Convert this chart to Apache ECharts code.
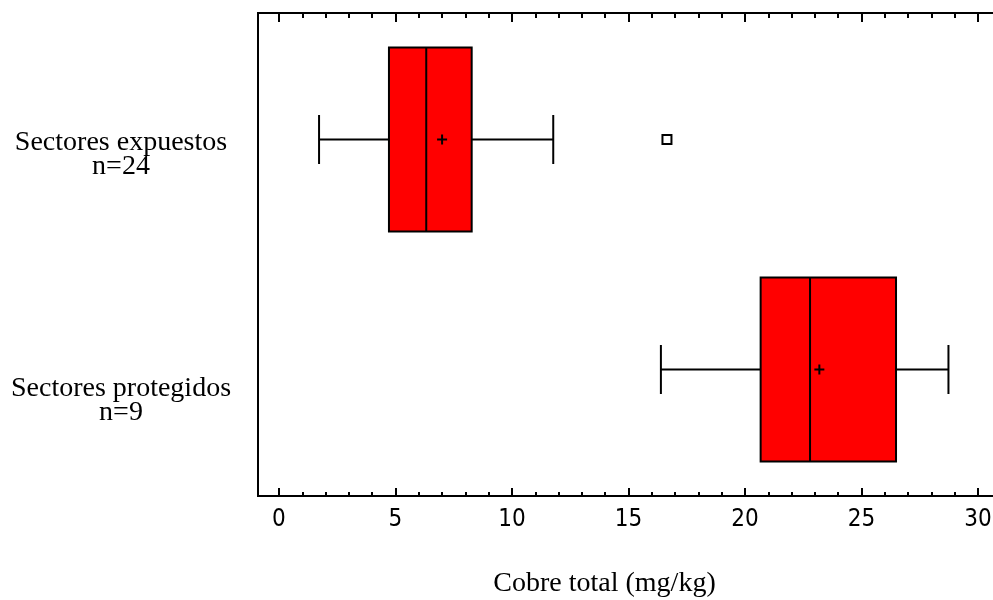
<!DOCTYPE html>
<html>
<head>
<meta charset="utf-8">
<script src="https://cdn.jsdelivr.net/npm/echarts@6/dist/echarts.min.js"></script>
<style>
  html, body { margin: 0; padding: 0; background: #fff; }
  #main { width: 993px; height: 600px; }
</style>
</head>
<body>
<div id="main"></div>
<script>
// grupos (de arriba a abajo)
var categories = ['Sectores expuestos\nn=24', 'Sectores protegidos\nn=9'];
var whiskerLow = [1.72, 16.39];
var q1 = [4.72, 20.67];
var median = [6.32, 22.79];
var q3 = [8.27, 26.48];
var whiskerHigh = [11.77, 28.73];
var mean = [7.0, 23.19];
// valores atipicos: [valor, indice del grupo]
var outliers = [[16.65, 0]];

var majorTicks = [0, 5, 10, 15, 20, 25, 30];
var minorTicks = [1, 2, 3, 4, 6, 7, 8, 9, 11, 12, 13, 14, 16, 17, 18, 19, 21, 22, 23, 24, 26, 27, 28, 29];

var X_MIN = -0.9, X_MAX = 31.5;
var serif = '"Liberation Serif", "Times New Roman", serif';
var digits = '"DejaVu Sans Condensed", "Liberation Sans Narrow", "Liberation Sans", sans-serif';

var boxData = [];
for (var i = 0; i < categories.length; i++) {
  boxData.push([whiskerLow[i], q1[i], median[i], q3[i], whiskerHigh[i], mean[i], i + 1]);
}
var outlierData = outliers.map(function (o) { return [o[0], o[1] + 1]; });

function renderBox(params, api) {
  var y = api.value(6);
  var pLow = api.coord([api.value(0), y]);
  var pQ1 = api.coord([api.value(1), y]);
  var pMed = api.coord([api.value(2), y]);
  var pQ3 = api.coord([api.value(3), y]);
  var pHigh = api.coord([api.value(4), y]);
  var pMean = api.coord([api.value(5), y]);
  var half = api.size([0, 0.4])[1];
  var cap = api.size([0, 0.1065])[1];
  var ls = { stroke: '#000', lineWidth: 2 };
  var cy = pQ1[1];
  return {
    type: 'group',
    children: [
      { type: 'line', shape: { x1: pLow[0], y1: cy, x2: pQ1[0], y2: cy }, style: ls },
      { type: 'line', shape: { x1: pQ3[0], y1: cy, x2: pHigh[0], y2: cy }, style: ls },
      { type: 'line', shape: { x1: pLow[0], y1: cy - cap, x2: pLow[0], y2: cy + cap }, style: ls },
      { type: 'line', shape: { x1: pHigh[0], y1: cy - cap, x2: pHigh[0], y2: cy + cap }, style: ls },
      { type: 'rect', shape: { x: pQ1[0], y: cy - half, width: pQ3[0] - pQ1[0], height: half * 2 },
        style: { fill: '#ff0000', stroke: '#000', lineWidth: 2 } },
      { type: 'line', shape: { x1: pMed[0], y1: cy - half, x2: pMed[0], y2: cy + half }, style: ls },
      { type: 'line', shape: { x1: pMean[0] - 5, y1: cy, x2: pMean[0] + 5, y2: cy }, style: ls },
      { type: 'line', shape: { x1: pMean[0], y1: cy - 5, x2: pMean[0], y2: cy + 5 }, style: ls }
    ]
  };
}

var myChart = echarts.init(document.getElementById('main'));
var option = {
  backgroundColor: '#fff',
  animation: false,
  grid: [
    { left: 258, top: 13, width: 755, height: 483, show: true, borderColor: '#000', borderWidth: 2,
      backgroundColor: 'transparent', containLabel: false, outerBoundsMode: 'none' },
    { left: 258, top: 32, width: 755, height: 492, show: false, containLabel: false, outerBoundsMode: 'none' }
  ],
  xAxis: [
    { // abajo, marcas mayores y etiquetas
      type: 'value', gridIndex: 0, position: 'bottom', min: X_MIN, max: X_MAX,
      axisLine: { show: false },
      axisTick: { show: true, inside: true, length: 8, customValues: majorTicks, lineStyle: { color: '#000', width: 2 } },
      axisLabel: { show: true, customValues: majorTicks, margin: 12, color: '#000', fontSize: 24, fontFamily: digits },
      splitLine: { show: false },
      name: 'Cobre total (mg/kg)', nameLocation: 'middle', nameGap: 74,
      nameTextStyle: { color: '#000', fontSize: 28, fontFamily: serif, padding: [0, 62, 0, 0] }
    },
    { // abajo, marcas menores
      type: 'value', gridIndex: 0, position: 'bottom', min: X_MIN, max: X_MAX,
      axisLine: { show: false },
      axisTick: { show: true, inside: true, length: 4, customValues: minorTicks, lineStyle: { color: '#000', width: 2 } },
      axisLabel: { show: false }, splitLine: { show: false }
    },
    { // arriba, marcas mayores
      type: 'value', gridIndex: 0, position: 'top', min: X_MIN, max: X_MAX,
      axisLine: { show: false },
      axisTick: { show: true, inside: true, length: 9, customValues: majorTicks, lineStyle: { color: '#000', width: 2 } },
      axisLabel: { show: false }, splitLine: { show: false }
    },
    { // arriba, marcas menores
      type: 'value', gridIndex: 0, position: 'top', min: X_MIN, max: X_MAX,
      axisLine: { show: false },
      axisTick: { show: true, inside: true, length: 5, customValues: minorTicks, lineStyle: { color: '#000', width: 2 } },
      axisLabel: { show: false }, splitLine: { show: false }
    },
    { type: 'value', gridIndex: 1, show: false, min: X_MIN, max: X_MAX }
  ],
  yAxis: [
    { type: 'value', gridIndex: 0, min: 0.45, max: 2.55, inverse: true, show: false },
    { // solo etiquetas de los grupos
      type: 'category', gridIndex: 1, data: categories, inverse: true,
      axisLine: { show: false }, axisTick: { show: false }, splitLine: { show: false },
      axisLabel: { show: true, align: 'center', margin: 137, color: '#000', fontSize: 28,
        lineHeight: 24, fontFamily: serif }
    }
  ],
  series: [
    {
      name: 'cobre', type: 'custom', xAxisIndex: 0, yAxisIndex: 0,
      renderItem: renderBox,
      encode: { x: [0, 1, 2, 3, 4, 5], y: 6 },
      data: boxData
    },
    {
      name: 'atipicos', type: 'scatter', xAxisIndex: 0, yAxisIndex: 0,
      symbol: 'rect', symbolSize: 9,
      itemStyle: { color: '#fff', borderColor: '#000', borderWidth: 2, opacity: 1 },
      data: outlierData
    }
  ]
};
myChart.setOption(option);
</script>
</body>
</html>
